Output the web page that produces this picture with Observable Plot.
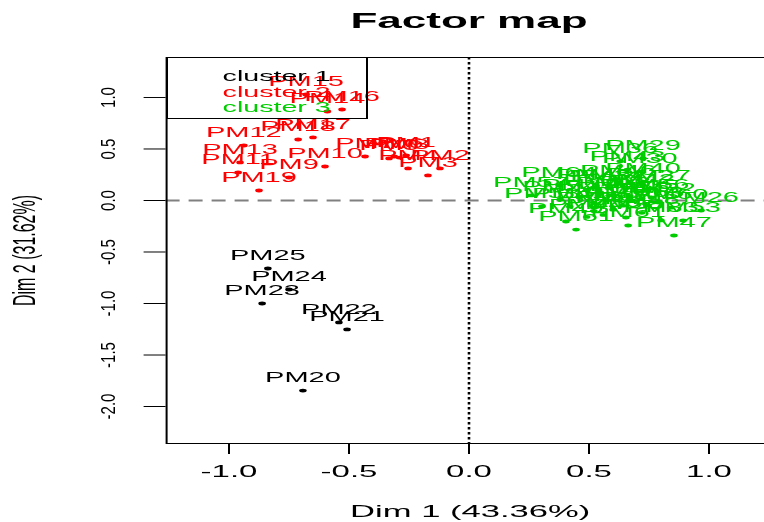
<!DOCTYPE html>
<html>
<head>
<meta charset="utf-8">
<script src="https://cdn.jsdelivr.net/npm/d3@7"></script>
<script src="https://cdn.jsdelivr.net/npm/@observablehq/plot@0.6"></script>
<style>
  html, body { margin: 0; padding: 0; overflow: hidden; background: #fff; width: 764px; height: 522px; }
  #wrap { position: absolute; left: 0; top: 0; width: 392px; height: 522px; transform: scaleX(2); transform-origin: 0 0;
          font-family: "Liberation Sans", Arial, Helvetica, sans-serif; color: #000; }
  #title { position: absolute; left: 0; top: 1px; width: 469px; height: 40px; line-height: 40px; text-align: center;
           font-weight: bold; font-size: 22px; }
  #chart { position: absolute; left: 0; top: 40px; }
  #legend { position: absolute; left: 82.8px; top: 57px; width: 101px; height: 62px; border: 1px solid #000;
            box-sizing: border-box; font-size: 14.3px; line-height: 15.5px; padding: 11px 0 0 27.5px; white-space: nowrap; }
</style>
</head>
<body>
<div id="wrap">
  <div id="title">Factor map</div>
  <div id="chart"></div>
  <div id="legend"></div>
</div>
<script>
// ---- data ----
const clusterNames = ["cluster 1", "cluster 2", "cluster 3"];
const clusterColors = ["#000000", "#FF0000", "#00CD00"];

const c1Names = ["PM20", "PM21", "PM22", "PM23", "PM24", "PM25"];
const c1Dim1  = [-0.692, -0.508, -0.542, -0.862, -0.750, -0.838];
const c1Dim2  = [-1.845, -1.252, -1.184, -1.000, -0.864, -0.660];

const c2Names = ["PM1", "PM2", "PM3", "PM4", "PM5", "PM6", "PM7", "PM8", "PM9", "PM10",
                 "PM11", "PM12", "PM13", "PM14", "PM15", "PM16", "PM17", "PM18", "PM19"];
const c2Dim1  = [-0.262, -0.121, -0.171, -0.254, -0.333, -0.312, -0.433, -0.290, -0.750, -0.600,
                 -0.962, -0.938, -0.954, -0.590, -0.679, -0.529, -0.650, -0.712, -0.875];
const c2Dim2  = [0.437, 0.311, 0.243, 0.311, 0.408, 0.427, 0.427, 0.417, 0.223, 0.330,
                 0.272, 0.534, 0.369, 0.864, 1.029, 0.883, 0.612, 0.592, 0.097];

const c3Names = ["PM26", "PM27", "PM28", "PM29", "PM30", "PM31", "PM32", "PM33", "PM34", "PM35",
                 "PM36", "PM37", "PM38", "PM39", "PM40", "PM41", "PM42", "PM43", "PM44", "PM45",
                 "PM46", "PM47", "PM48", "PM49", "PM50", "PM51", "PM52", "PM53", "PM54", "PM55",
                 "PM56", "PM57", "PM58", "PM59", "PM60", "PM61", "PM62", "PM63", "PM64"];
const c3Dim1  = [0.967, 0.767, 0.600, 0.725, 0.712, 0.520, 0.788, 0.800, 0.580, 0.720,
                 0.630, 0.460, 0.654, 0.560, 0.725, 0.420, 0.700, 0.660, 0.490, 0.520,
                 0.620, 0.854, 0.720, 0.404, 0.640, 0.446, 0.550, 0.892, 0.380, 0.680,
                 0.760, 0.258, 0.304, 0.520, 0.840, 0.663, 0.600, 0.740, 0.375];
const c3Dim2  = [-0.097, 0.117, 0.050, 0.408, 0.282, -0.020, -0.010, -0.194, 0.120, 0.020,
                 0.380, 0.030, -0.165, -0.140, 0.184, -0.060, 0.080, 0.300, -0.160, 0.126,
                 0.170, -0.340, -0.120, -0.204, -0.050, -0.282, 0.070, -0.194, 0.010, 0.000,
                 0.030, 0.049, -0.058, -0.100, -0.070, -0.243, -0.090, -0.050, 0.146];

const xTicks = [-1.0, -0.5, 0.0, 0.5, 1.0];
const yTicks = [-2.0, -1.5, -1.0, -0.5, 0.0, 0.5, 1.0];
const xTitle = "Dim 1 (43.36%)";
const yTitle = "Dim 2 (31.62%)";

// ---- table ----
const points = [];
[[c1Names, c1Dim1, c1Dim2], [c2Names, c2Dim1, c2Dim2], [c3Names, c3Dim1, c3Dim2]].forEach(([n, a, b], k) => {
  n.forEach((name, i) => points.push({name, dim1: a[i], dim2: b[i], cluster: clusterNames[k]}));
});

const fmt = d => d.toFixed(1);

const chart = Plot.plot({
  width: 392,
  height: 482,
  marginLeft: 82.8,
  marginRight: 5.6,
  marginTop: 17,
  marginBottom: 79,
  x: {domain: [-1.26, 1.27]},
  y: {domain: [-2.359, 1.388]},
  color: {domain: clusterNames, range: clusterColors},
  style: {fontFamily: '"Liberation Sans", Arial, Helvetica, sans-serif', background: "transparent", color: "#000", overflow: "visible"},
  marks: [
    Plot.ruleY([0], {stroke: "#808080", strokeWidth: 1.8, strokeDasharray: "7,4.5"}),
    Plot.ruleX([0], {stroke: "#000", strokeWidth: 1.3, strokeDasharray: "2.5,2.5"}),
    Plot.frame({stroke: "#000", strokeWidth: 1}),
    Plot.axisX({ticks: xTicks, tickFormat: fmt, tickSize: 11, tickPadding: 11, fontSize: 16.5, label: null}),
    Plot.axisY({ticks: yTicks, tickFormat: fmt, tickSize: 11, tickPadding: 18.3, tickRotate: -90,
                lineAnchor: "middle", fontSize: 15, label: null}),
    Plot.dot(points, {x: "dim1", y: "dim2", fill: "cluster", r: 1.9}),
    Plot.text(points, {x: "dim1", y: "dim2", text: "name", fill: "cluster", dy: -13, fontSize: 14.5}),
    Plot.text([xTitle], {frameAnchor: "bottom", lineAnchor: "middle", textAnchor: "middle", dy: 68, text: d => d, fontSize: 17.3}),
    Plot.text([yTitle], {frameAnchor: "left", lineAnchor: "middle", textAnchor: "middle", dx: -71, rotate: -90,
                         text: d => d, fontSize: 16, ariaLabel: "y-title"})
  ]
});
document.getElementById("chart").appendChild(chart);

// rotated texts are less widened in the reference
chart.querySelectorAll('g[aria-label="y-axis tick label"] text').forEach(t => {
  const tr = t.getAttribute("transform") || "";
  t.setAttribute("transform", tr + " scale(1,0.7)");
});
chart.querySelectorAll('g[aria-label="y-title"] text').forEach(t => {
  const tr = t.getAttribute("transform") || "";
  t.setAttribute("transform", tr + " scale(1,0.67)");
});

// legend
const legend = document.getElementById("legend");
clusterNames.forEach((name, i) => {
  const div = document.createElement("div");
  div.textContent = name;
  div.style.color = clusterColors[i];
  legend.appendChild(div);
});
</script>
</body>
</html>
